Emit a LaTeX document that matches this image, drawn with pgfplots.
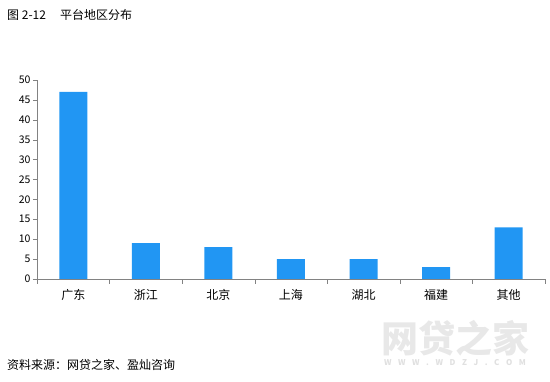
\documentclass[border=0pt]{standalone}
\usepackage{pgfplots}
\pgfplotsset{compat=1.18}
\usepackage{fontspec}
\setmainfont{Noto Sans CJK SC}
\definecolor{barblue}{RGB}{33,150,243}
\definecolor{axgray}{RGB}{130,130,130}
\begin{document}
\begin{tikzpicture}[x=1pt,y=1pt]
\path[use as bounding box] (0,0) rectangle (550,381);
\node[anchor=west,inner sep=0pt,font=\fontsize{12}{14}\selectfont] at (7,366) {图 2-12\hspace{14pt}平台地区分布};
\node[anchor=west,inner sep=0pt,font=\fontsize{12}{14}\selectfont] at (7,16) {资料来源：网贷之家、盈灿咨询};
\node[anchor=center,inner sep=0pt,text=black!9,font=\fontsize{37}{40}\bfseries] at (455,43) {网贷之家};
\node[anchor=center,inner sep=0pt,text=black!12,font=\fontsize{8}{10}\bfseries] at (455,18) {\makebox[142pt][s]{W W W . W D Z J . C O M}};
\begin{axis}[
  at={(37pt,102pt)}, anchor=south west,
  scale only axis, width=508pt, height=199pt,
  xmin=-0.5, xmax=6.5, ymin=0, ymax=50,
  axis x line*=bottom, axis y line*=left,
  axis line style={draw=axgray,-},
  ytick={0,5,...,50},
  xtick={0,...,6},
  xticklabels={广东,浙江,北京,上海,湖北,福建,其他},
  minor xtick={-0.5,0.5,...,6.5},
  major x tick style={draw=none},
  minor x tick style={draw=axgray},
  major y tick style={draw=axgray},
  tick align=outside,
  major tick length=4pt, minor tick length=5pt,
  /pgf/number format/assume math mode=true,
  yticklabel style={font=\fontsize{10.5}{12}\selectfont, xshift=1pt},
  xticklabel style={font=\fontsize{12}{14}\selectfont, yshift=-3pt},
  ybar, bar width=28pt,
]
\addplot[fill=barblue, draw=none] coordinates {(0,47) (1,9) (2,8) (3,5) (4,5) (5,3) (6,13)};
\end{axis}
\end{tikzpicture}
\end{document}
